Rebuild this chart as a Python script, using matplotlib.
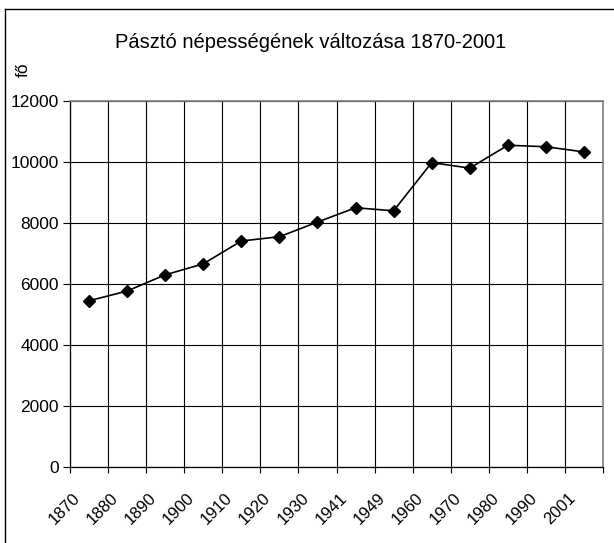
import numpy as np
import matplotlib
matplotlib.use("Agg")
import matplotlib.pyplot as plt
from matplotlib.lines import Line2D

plt.rcParams['font.family'] = ['Liberation Sans', 'DejaVu Sans']

years = ['1870', '1880', '1890', '1900', '1910', '1920', '1930',
         '1941', '1949', '1960', '1970', '1980', '1990', '2001']
population = [5450, 5770, 6300, 6660, 7410, 7550, 8030,
              8500, 8400, 9980, 9800, 10550, 10500, 10330]
yticks = [0, 2000, 4000, 6000, 8000, 10000, 12000]

W, H = 614, 543
fig = plt.figure(figsize=(W / 100, H / 100), dpi=100)
ax = fig.add_axes([70 / W, 1 - 467 / H, (603 - 70) / W, (467 - 101) / H])

x = np.arange(len(years))
ax.plot(x, population, color='black', lw=1.2, marker='D', ms=6.5,
        mfc='black', mec='black', zorder=3, clip_on=False)

ax.set_xlim(-0.5, len(years) - 0.5)
ax.set_ylim(0, 12000)

# category boundaries carry the grid and tick marks
ax.set_xticks(np.arange(len(years) + 1) - 0.5)
ax.set_xticklabels([])
ax.set_xticks(x - 0.15, minor=True)
ax.set_xticklabels(years, minor=True, rotation=45, ha='right', fontsize=12)
ax.tick_params(axis='x', which='minor', length=0, pad=17)
ax.tick_params(axis='x', which='major', length=4, width=0.8, direction='out')

ax.set_yticks(yticks)
ax.set_yticklabels([str(v) for v in yticks], fontsize=12.5)
ax.tick_params(axis='y', length=5, width=0.8, direction='out', pad=3)

ax.grid(True, which='major', color='black', lw=0.8)
ax.set_axisbelow(True)
for s in ['top', 'right']:
    ax.spines[s].set_color('#808080')
    ax.spines[s].set_linewidth(1.2)
for s in ['left', 'bottom']:
    ax.spines[s].set_color('black')
    ax.spines[s].set_linewidth(0.9)

fig.text(311 / W, 1 - 43 / H, 'Pásztó népességének változása 1870-2001',
         ha='center', va='center', fontsize=14.5)
fig.text(23 / W, 1 - 70 / H, 'fő', ha='center', va='center',
         rotation=90, fontsize=12.5)

# outer chart border (left and top edges visible)
fig.add_artist(Line2D([5 / W, 5 / W], [0, 1 - 9 / H], transform=fig.transFigure,
                      color='black', lw=1.0))
fig.add_artist(Line2D([5 / W, 1], [1 - 9 / H, 1 - 9 / H], transform=fig.transFigure,
                      color='black', lw=1.0))

fig.savefig('out.png', dpi=100)
